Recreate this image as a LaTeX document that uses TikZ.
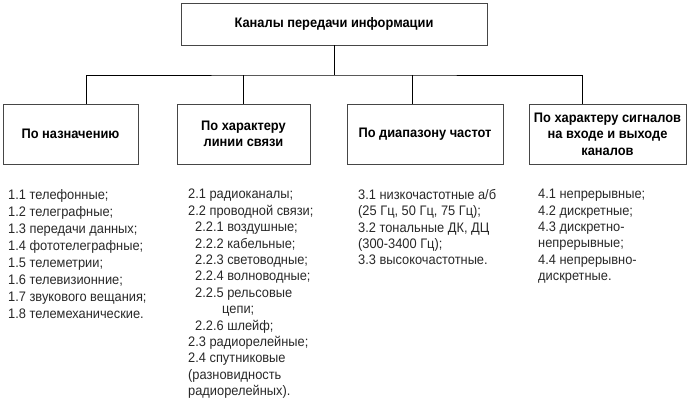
\documentclass[tikz,border=0pt]{standalone}
\usepackage{fontspec}
\setmainfont{Liberation Sans}[FakeStretch=0.93]
\usepackage{xcolor}
\definecolor{boxgray}{RGB}{70, 70, 70}
\definecolor{textgray}{RGB}{40, 40, 40}
\usetikzlibrary{positioning}

\tikzset{
    headbox/.style={draw=boxgray, line width=0.8pt, inner sep=0pt, align=center,
        font=\bfseries\fontsize{13.8}{16.5}\selectfont},
    itemlist/.style={anchor=north west, inner sep=0pt, align=left, text=textgray,
        font=\fontsize{13.8}{16.4}\selectfont},
    link/.style={line width=0.8pt}
}

\begin{document}
\begin{tikzpicture}[x=1pt, y=-1pt]
    \useasboundingbox (0, 0) rectangle (688, 418);

    % Root box
    \node[headbox, minimum width=306pt, minimum height=42pt] (root) at (334, 24) {Каналы передачи информации};

    % Classification boxes
    \node[headbox, minimum width=135pt, minimum height=60pt] (purpose) at (70.5, 134) {По назначению};
    \node[headbox, minimum width=133pt, minimum height=60pt] (line) at (243.5, 134) {По характеру\\линии связи};
    \node[headbox, minimum width=156pt, minimum height=60pt] (freq) at (425, 134) {По диапазону частот};
    \node[headbox, minimum width=157pt, minimum height=60pt] (signal) at (607.5, 134) {По характеру сигналов\\на входе и выходе\\каналов};

    % Connectors
    \coordinate (bus) at (334, 75);
    \draw[link] (root.south) -- (bus);
    \draw[link] ([xshift=15.5pt]purpose.north) |- (bus) -| ([xshift=-25.5pt]signal.north);
    \draw[link] (line.north) -- (line.north |- bus);
    \draw[link] ([xshift=-13pt]freq.north) -- ([xshift=-13pt]freq.north |- bus);

    % Lists
    \node[itemlist, font=\fontsize{13.8}{17.1}\selectfont] (purposelist) at (8, 189) {1.1 телефонные;\\1.2 телеграфные;\\1.3 передачи данных;\\1.4 фототелеграфные;\\1.5 телеметрии;\\1.6 телевизионние;\\1.7 звукового вещания;\\1.8 телемеханические.};
    \node[itemlist] (linelist) at (188, 189) {2.1 радиоканалы;\\2.2 проводной связи;\\
        \hspace*{7pt}2.2.1 воздушные;\\\hspace*{7pt}2.2.2 кабельные;\\\hspace*{7pt}2.2.3 световодные;\\
        \hspace*{7pt}2.2.4 волноводные;\\\hspace*{7pt}2.2.5 рельсовые\\\hspace*{34pt}цепи;\\
        \hspace*{7pt}2.2.6 шлейф;\\2.3 радиорелейные;\\2.4 спутниковые\\(разновидность\\радиорелейных).};
    \node[itemlist] (freqlist) at (358, 189) {3.1 низкочастотные а/б\\(25 Гц, 50 Гц, 75 Гц);\\3.2 тональные ДК, ДЦ\\(300-3400 Гц);\\3.3 высокочастотные.};
    \node[itemlist] (signallist) at (538, 189) {4.1 непрерывные;\\4.2 дискретные;\\4.3 дискретно-\\непрерывные;\\4.4 непрерывно-\\дискретные.};
\end{tikzpicture}
\end{document}
